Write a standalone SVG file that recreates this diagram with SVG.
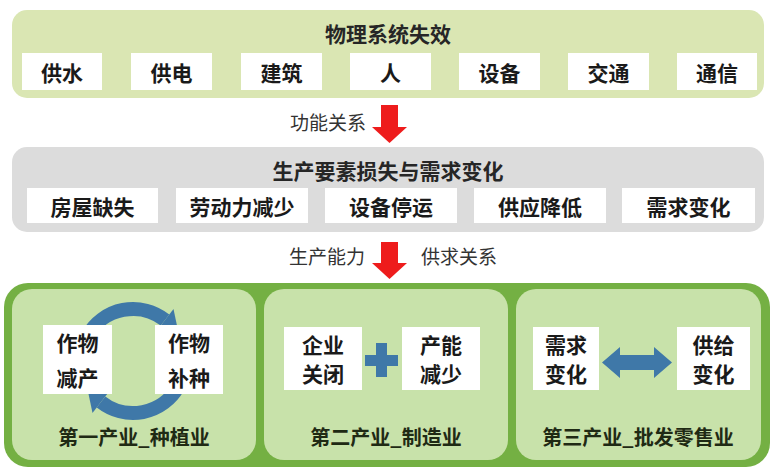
<svg xmlns="http://www.w3.org/2000/svg" width="776" height="476" viewBox="0 0 776 476">
<style>
text{font-family:"Noto Sans CJK SC","Noto Sans",sans-serif;dominant-baseline:central;text-anchor:middle}
.t{font-size:21px;font-weight:bold;fill:#1a1a1a}
.h{font-size:21px;font-weight:bold;fill:#262626}
.l{font-size:19px;fill:#333}
.p{font-size:20px;font-weight:bold;fill:#1f2a14}
.w{fill:#fff}
.red{fill:#ee1c1c}
.blue{fill:#3f78a8}
.arc{fill:none;stroke:#3f78a8;stroke-width:14}
</style>
<rect width="776" height="476" fill="#fff"/>
<g id="physical">
<rect x="12" y="10" width="752" height="88" rx="15" fill="#dae6b3"/>
<text class="h" x="388" y="33">物理系统失效</text>
</g>
<g id="n-water"><rect class="w" x="22" y="53" width="80" height="37"/><text class="t" x="62" y="72">供水</text></g>
<g id="n-power"><rect class="w" x="131" y="53" width="81" height="37"/><text class="t" x="171.5" y="72">供电</text></g>
<g id="n-building"><rect class="w" x="241" y="53" width="81" height="37"/><text class="t" x="281.5" y="72">建筑</text></g>
<g id="n-people"><rect class="w" x="350" y="53" width="81" height="37"/><text class="t" x="390.5" y="72">人</text></g>
<g id="n-equip"><rect class="w" x="459" y="53" width="81" height="37"/><text class="t" x="499.5" y="72">设备</text></g>
<g id="n-traffic"><rect class="w" x="568" y="53" width="81" height="37"/><text class="t" x="608.5" y="72">交通</text></g>
<g id="n-comm"><rect class="w" x="677" y="53" width="80" height="37"/><text class="t" x="717" y="72">通信</text></g>

<g id="production">
<rect x="12" y="147" width="752" height="85" rx="15" fill="#dcdcdc"/>
<text class="h" x="388" y="170">生产要素损失与需求变化</text>
</g>
<g id="n-house"><rect class="w" x="27" y="188" width="131" height="35"/><text class="t" x="92.5" y="206">房屋缺失</text></g>
<g id="n-labor"><rect class="w" x="176" y="188" width="132" height="35"/><text class="t" x="242" y="206">劳动力减少</text></g>
<g id="n-stop"><rect class="w" x="325" y="188" width="132" height="35"/><text class="t" x="391" y="206">设备停运</text></g>
<g id="n-supply"><rect class="w" x="474" y="188" width="132" height="35"/><text class="t" x="540" y="206">供应降低</text></g>
<g id="n-demand"><rect class="w" x="622" y="188" width="133" height="35"/><text class="t" x="688.5" y="206">需求变化</text></g>

<g id="connectors">
<polygon class="red" points="381,105 398,105 398,127 407,127 389.5,143 372,127 381,127"/>
<text class="l" x="328" y="121">功能关系</text>
<polygon class="red" points="381,242 398,242 398,263 407,263 389.5,279 372,263 381,263"/>
<text class="l" x="327" y="255">生产能力</text>
<text class="l" x="459" y="255">供求关系</text>
</g>

<g id="industries">
<rect x="4" y="283" width="766" height="184" rx="24" fill="#74b043"/>
</g>
<g id="primary">
<rect x="12" y="289" width="244" height="171" rx="20" fill="#c8e2aa"/>
<path class="arc" d="M88,335 A52,52 0 0 1 165,320"/>
<polygon class="blue" points="173.5,309 156.5,331 178,330.5"/>
<path class="arc" d="M178,387 A52,52 0 0 1 101,402"/>
<polygon class="blue" points="92.5,413 109.5,391 88,391.5"/>
<rect class="w" x="43" y="325" width="69" height="69"/>
<text class="t" x="77.5" y="342">作物</text>
<text class="t" x="77.5" y="377">减产</text>
<rect class="w" x="155" y="325" width="68" height="69"/>
<text class="t" x="189" y="342">作物</text>
<text class="t" x="189" y="377">补种</text>
<text class="p" x="134" y="436">第一产业_种植业</text>
</g>
<g id="secondary">
<rect x="264" y="289" width="244" height="171" rx="20" fill="#c8e2aa"/>
<rect class="w" x="284" y="327" width="78" height="63"/>
<text class="t" x="323" y="344">企业</text>
<text class="t" x="323" y="373">关闭</text>
<polygon class="blue" points="376,343 387,343 387,355 398,355 398,366 387,366 387,377 376,377 376,366 365,366 365,355 376,355"/>
<rect class="w" x="402" y="327" width="78" height="63"/>
<text class="t" x="441" y="344">产能</text>
<text class="t" x="441" y="373">减少</text>
<text class="p" x="386" y="436">第二产业_制造业</text>
</g>
<g id="tertiary">
<rect x="516" y="289" width="245" height="171" rx="20" fill="#c8e2aa"/>
<rect class="w" x="533" y="327" width="66" height="63"/>
<text class="t" x="566" y="344">需求</text>
<text class="t" x="566" y="373">变化</text>
<polygon class="blue" points="602,362.5 620,347 620,355 654,355 654,347 672,362.5 654,378 654,370 620,370 620,378"/>
<rect class="w" x="677" y="327" width="73" height="63"/>
<text class="t" x="713.5" y="344">供给</text>
<text class="t" x="713.5" y="373">变化</text>
<text class="p" x="638" y="436">第三产业_批发零售业</text>
</g>
</svg>
